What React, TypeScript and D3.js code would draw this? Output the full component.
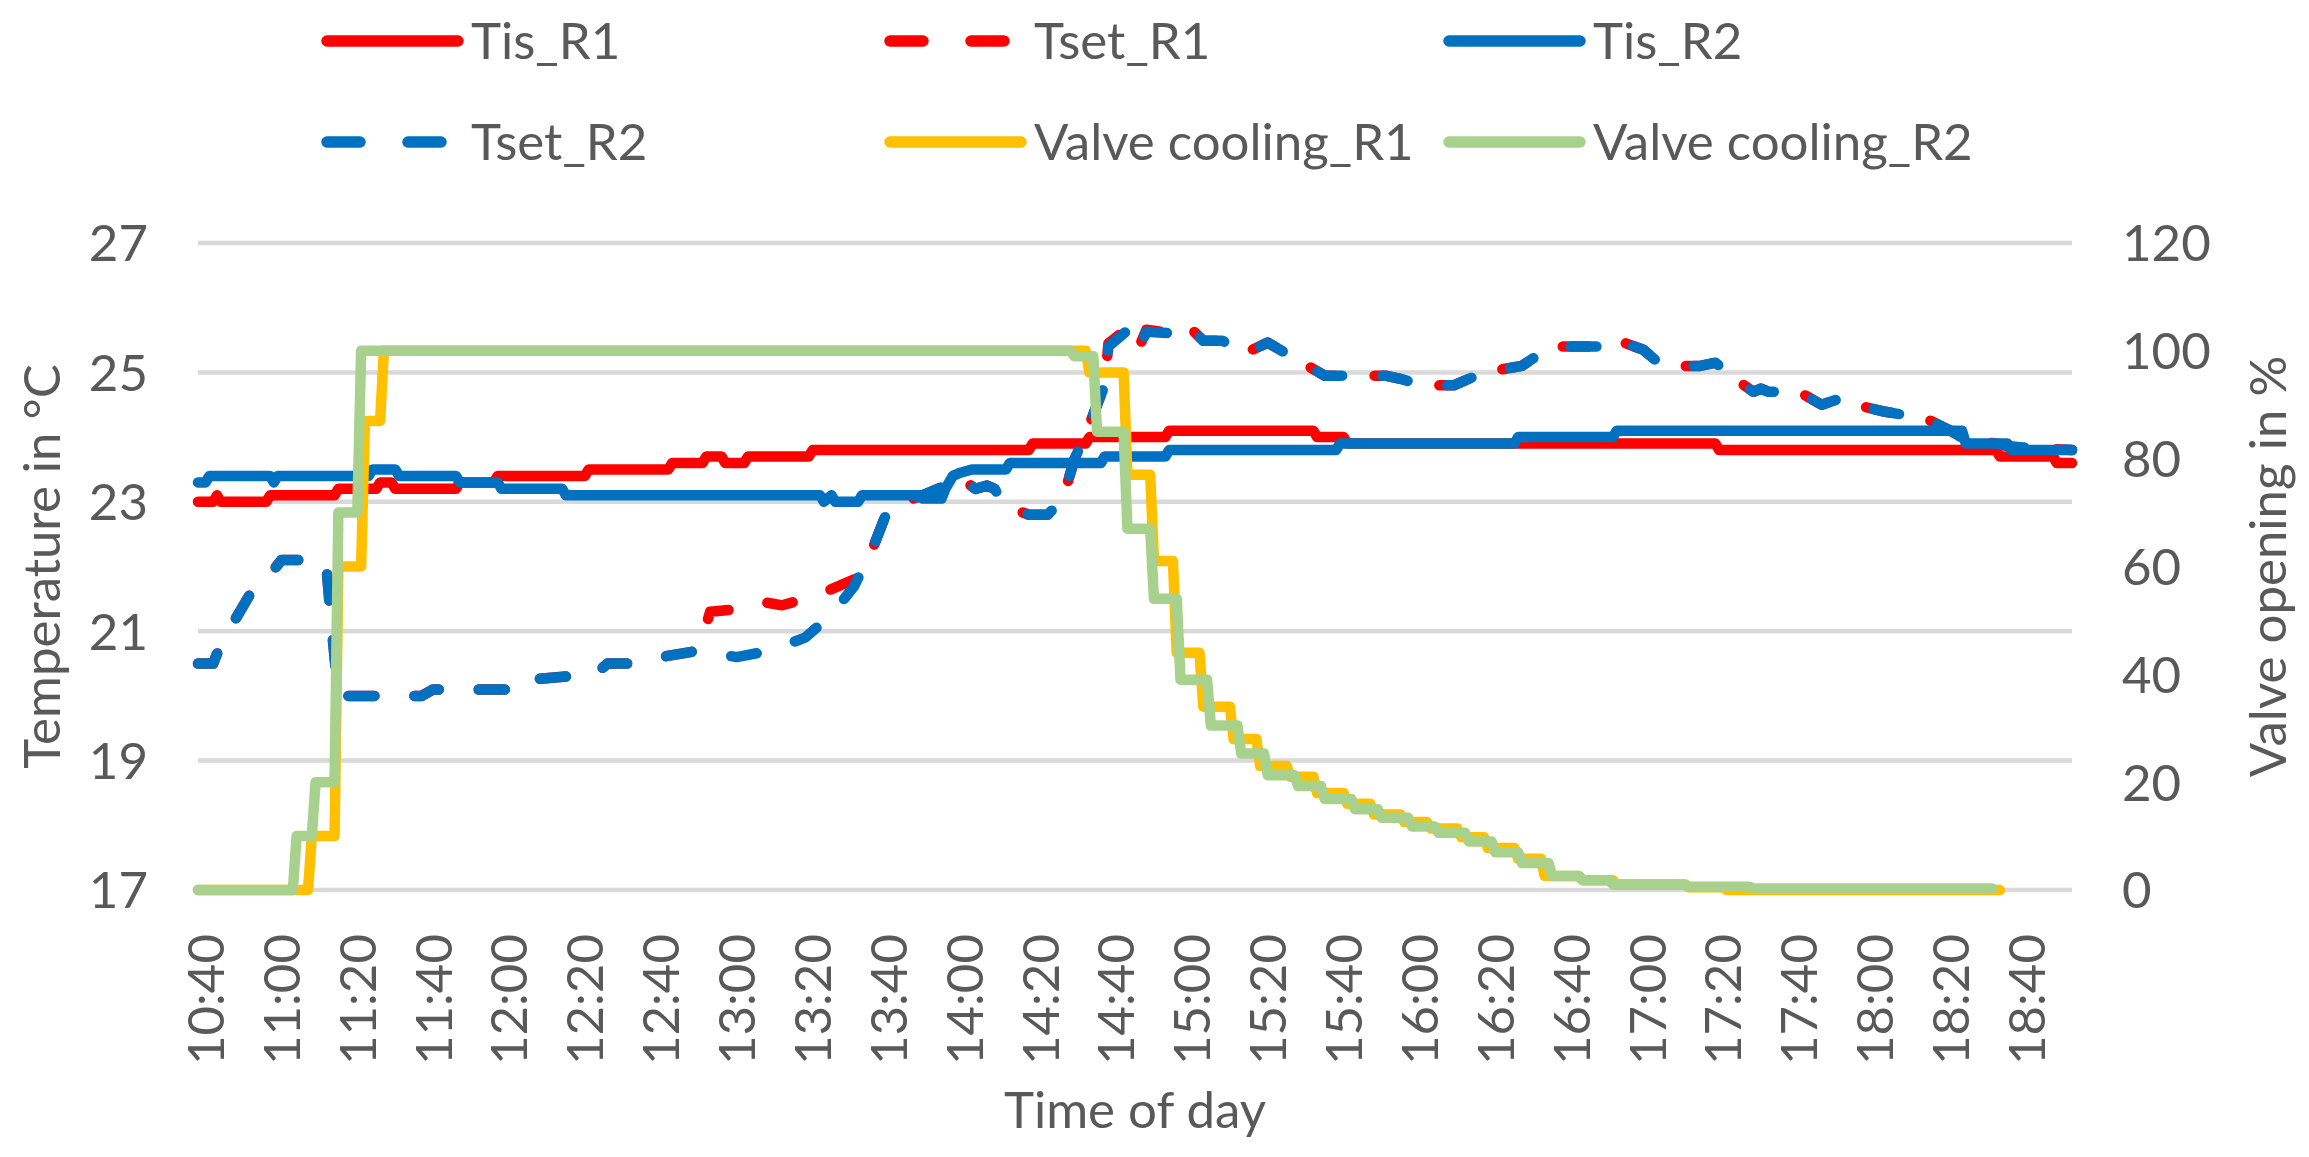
import React, { useRef, useEffect } from 'react'
import * as d3 from 'd3'

type Pt = [string, number]

// Axis ticks
const TIME_TICKS = [
  '10:40', '11:00', '11:20', '11:40', '12:00', '12:20', '12:40', '13:00', '13:20',
  '13:40', '14:00', '14:20', '14:40', '15:00', '15:20', '15:40', '16:00', '16:20',
  '16:40', '17:00', '17:20', '17:40', '18:00', '18:20', '18:40',
]
const TEMP_TICKS = [17, 19, 21, 23, 25, 27]
const VALVE_TICKS = [0, 20, 40, 60, 80, 100, 120]
const TIME_RANGE = ['10:38', '18:52']

// Room temperature R1 (°C)
const tisR1: Pt[] = [
  ['10:38', 23.0], ['10:42', 23.0], ['10:43', 23.1], ['10:44', 23.0], ['10:56', 23.0],
  ['10:57', 23.1], ['11:14', 23.1], ['11:15', 23.2], ['11:25', 23.2], ['11:26', 23.3],
  ['11:29', 23.3], ['11:30', 23.2], ['11:46', 23.2], ['11:47', 23.3], ['11:56', 23.3],
  ['11:57', 23.4], ['12:20', 23.4], ['12:21', 23.5], ['12:42', 23.5], ['12:43', 23.6],
  ['12:51', 23.6], ['12:52', 23.7], ['12:56', 23.7], ['12:57', 23.6], ['13:02', 23.6],
  ['13:03', 23.7], ['13:19', 23.7], ['13:20', 23.8], ['14:17', 23.8], ['14:18', 23.9],
  ['14:32', 23.9], ['14:33', 24.0], ['14:53', 24.0], ['14:54', 24.1], ['15:32', 24.1],
  ['15:33', 24.0], ['15:40', 24.0], ['15:41', 23.9], ['17:18', 23.9], ['17:19', 23.8],
  ['18:32', 23.8], ['18:33', 23.7], ['18:47', 23.7], ['18:48', 23.6], ['18:52', 23.6],
]

// Setpoint R1 (°C)
const tsetR1: Pt[] = [
  ['10:38', 20.5], ['10:42', 20.5], ['10:44', 20.8], ['10:49', 21.3], ['10:53', 21.7],
  ['10:56', 21.8], ['11:00', 22.1], ['11:11', 22.1], ['11:12', 21.9], ['11:13', 21.2],
  ['11:14', 20.6], ['11:15', 20.0], ['11:37', 20.0], ['11:40', 20.1], ['12:03', 20.1],
  ['12:05', 20.25], ['12:15', 20.3], ['12:17', 20.4], ['12:24', 20.4], ['12:26', 20.5],
  ['12:34', 20.5], ['12:40', 20.6], ['12:50', 20.7], ['12:53', 21.3], ['13:02', 21.35],
  ['13:07', 21.45], ['13:12', 21.4], ['13:21', 21.55], ['13:25', 21.65], ['13:31', 21.8],
  ['13:36', 22.3], ['13:40', 22.9], ['13:44', 23.0], ['13:49', 23.1], ['13:55', 23.25],
  ['13:58', 23.4], ['14:03', 23.2], ['14:06', 23.25], ['14:08', 23.2], ['14:10', 22.95],
  ['14:17', 22.8], ['14:22', 22.8], ['14:26', 23.05], ['14:29', 23.65], ['14:33', 24.2],
  ['14:37', 24.8], ['14:38', 25.45], ['14:43', 25.68], ['14:46', 25.38], ['14:48', 25.66],
  ['14:56', 25.6], ['14:59', 25.72], ['15:03', 25.49], ['15:08', 25.49], ['15:14', 25.3],
  ['15:20', 25.46], ['15:27', 25.22], ['15:35', 24.95], ['15:44', 24.95], ['15:51', 24.95],
  ['15:55', 24.9], ['16:01', 24.8], ['16:09', 24.8], ['16:13', 24.9], ['16:17', 25.0],
  ['16:27', 25.1], ['16:32', 25.3], ['16:36', 25.4], ['16:44', 25.4], ['16:50', 25.4],
  ['16:52', 25.5], ['16:59', 25.35], ['17:02', 25.2], ['17:06', 25.1], ['17:08', 25.1],
  ['17:14', 25.1], ['17:18', 25.15], ['17:22', 24.95], ['17:28', 24.7], ['17:30', 24.75],
  ['17:32', 24.7], ['17:40', 24.7], ['17:46', 24.5], ['17:51', 24.6], ['17:55', 24.5],
  ['18:02', 24.4], ['18:07', 24.35], ['18:13', 24.3], ['18:20', 24.1], ['18:24', 23.95],
  ['18:32', 23.9], ['18:36', 23.85], ['18:52', 23.8],
]

// Room temperature R2 (°C)
const tisR2: Pt[] = [
  ['10:38', 23.3], ['10:40', 23.3], ['10:41', 23.4], ['10:57', 23.4], ['10:58', 23.3],
  ['10:59', 23.4], ['11:23', 23.4], ['11:24', 23.5], ['11:30', 23.5], ['11:31', 23.4],
  ['11:46', 23.4], ['11:47', 23.3], ['11:57', 23.3], ['11:58', 23.2], ['12:14', 23.2],
  ['12:15', 23.1], ['13:22', 23.1], ['13:23', 23.0], ['13:25', 23.1], ['13:26', 23.0],
  ['13:32', 23.0], ['13:33', 23.1], ['13:48', 23.1], ['13:49', 23.05], ['13:54', 23.05],
  ['13:55', 23.2], ['13:57', 23.4], ['13:59', 23.45], ['14:02', 23.5], ['14:11', 23.5],
  ['14:12', 23.6], ['14:36', 23.6], ['14:37', 23.7], ['14:53', 23.7], ['14:54', 23.8],
  ['15:38', 23.8], ['15:39', 23.9], ['16:25', 23.9], ['16:26', 24.0], ['16:51', 24.0],
  ['16:52', 24.1], ['18:23', 24.1], ['18:24', 23.9], ['18:35', 23.9], ['18:36', 23.8],
  ['18:52', 23.8],
]

// Setpoint R2 (°C)
const tsetR2: Pt[] = [
  ['10:38', 20.5], ['10:42', 20.5], ['10:44', 20.8], ['10:49', 21.3], ['10:53', 21.7],
  ['10:56', 21.8], ['11:00', 22.1], ['11:11', 22.1], ['11:12', 21.9], ['11:13', 21.2],
  ['11:14', 20.6], ['11:15', 20.0], ['11:37', 20.0], ['11:40', 20.1], ['12:03', 20.1],
  ['12:05', 20.25], ['12:15', 20.3], ['12:17', 20.4], ['12:24', 20.4], ['12:26', 20.5],
  ['12:34', 20.5], ['12:40', 20.6], ['12:50', 20.7], ['12:55', 20.65], ['13:00', 20.6],
  ['13:09', 20.7], ['13:18', 20.9], ['13:25', 21.25], ['13:31', 21.7], ['13:36', 22.3],
  ['13:40', 22.9], ['13:44', 23.0], ['13:49', 23.1], ['13:55', 23.25], ['13:58', 23.4],
  ['14:03', 23.2], ['14:06', 23.25], ['14:08', 23.2], ['14:10', 23.0], ['14:17', 22.8],
  ['14:22', 22.8], ['14:26', 23.05], ['14:29', 23.65], ['14:33', 24.2], ['14:37', 24.8],
  ['14:38', 25.4], ['14:43', 25.65], ['14:46', 25.35], ['14:48', 25.63], ['14:56', 25.6],
  ['14:59', 25.72], ['15:03', 25.49], ['15:08', 25.49], ['15:14', 25.3], ['15:20', 25.46],
  ['15:27', 25.22], ['15:35', 24.95], ['15:44', 24.95], ['15:51', 24.95], ['15:55', 24.9],
  ['16:01', 24.8], ['16:09', 24.8], ['16:13', 24.9], ['16:17', 25.0], ['16:27', 25.1],
  ['16:32', 25.3], ['16:36', 25.4], ['16:44', 25.4], ['16:50', 25.4], ['16:52', 25.5],
  ['16:59', 25.35], ['17:02', 25.2], ['17:06', 25.1], ['17:08', 25.1], ['17:14', 25.1],
  ['17:18', 25.15], ['17:22', 24.95], ['17:28', 24.7], ['17:30', 24.75], ['17:32', 24.7],
  ['17:40', 24.7], ['17:46', 24.5], ['17:51', 24.6], ['17:55', 24.5], ['18:02', 24.4],
  ['18:07', 24.35], ['18:13', 24.3], ['18:20', 24.1], ['18:24', 23.95], ['18:32', 23.9],
  ['18:36', 23.85], ['18:52', 23.8],
]

// Valve opening R1 (%)
const valveR1: Pt[] = [
  ['10:38', 0], ['11:07', 0], ['11:08', 10], ['11:14', 10], ['11:15', 60], ['11:21', 60],
  ['11:22', 87], ['11:26', 87], ['11:27', 100], ['14:32', 100], ['14:33', 96], ['14:42', 96],
  ['14:43', 77], ['14:49', 77], ['14:50', 61], ['14:55', 61], ['14:56', 44], ['15:02', 44],
  ['15:03', 34], ['15:10', 34], ['15:11', 28], ['15:17', 28], ['15:18', 23], ['15:25', 23],
  ['15:26', 21], ['15:32', 21], ['15:33', 18], ['15:40', 18], ['15:41', 16], ['15:47', 16],
  ['15:48', 14], ['15:55', 14], ['15:56', 12.6], ['16:02', 12.6], ['16:03', 11.4],
  ['16:10', 11.4], ['16:11', 9.8], ['16:17', 9.8], ['16:18', 7.8], ['16:25', 7.8],
  ['16:26', 5.8], ['16:32', 5.8], ['16:33', 2.6], ['16:42', 2.6], ['16:43', 1.8],
  ['16:51', 1.8], ['16:52', 1.0], ['17:10', 1.0], ['17:11', 0.5], ['17:20', 0.5],
  ['17:21', 0], ['18:33', 0],
]

// Valve opening R2 (%)
const valveR2: Pt[] = [
  ['10:38', 0], ['11:03', 0], ['11:04', 10], ['11:08', 10], ['11:09', 20], ['11:14', 20],
  ['11:15', 70], ['11:20', 70], ['11:21', 100], ['14:28', 100], ['14:29', 99], ['14:34', 99],
  ['14:35', 85], ['14:42', 85], ['14:43', 67], ['14:49', 67], ['14:50', 54], ['14:56', 54],
  ['14:57', 39], ['15:04', 39], ['15:05', 30.5], ['15:12', 30.5], ['15:13', 25.3],
  ['15:19', 25.3], ['15:20', 21.3], ['15:27', 21.3], ['15:28', 19.3], ['15:34', 19.3],
  ['15:35', 16.9], ['15:42', 16.9], ['15:43', 15], ['15:49', 15], ['15:50', 13.4],
  ['15:57', 13.4], ['15:58', 11.8], ['16:04', 11.8], ['16:05', 10.6], ['16:12', 10.6],
  ['16:13', 9], ['16:19', 9], ['16:20', 7], ['16:26', 7], ['16:27', 5], ['16:34', 5],
  ['16:35', 2.6], ['16:42', 2.6], ['16:43', 1.8], ['16:50', 1.8], ['16:51', 1.0],
  ['17:10', 1.0], ['17:11', 0.6], ['17:27', 0.6], ['17:28', 0.3], ['18:31', 0.3],
]

interface Series {
  name: string
  data: Pt[]
  color: string
  dashed: boolean
  axis: 'temp' | 'valve'
}

const SERIES: Series[] = [
  { name: 'Tis_R1', data: tisR1, color: '#FF0000', dashed: false, axis: 'temp' },
  { name: 'Tset_R1', data: tsetR1, color: '#FF0000', dashed: true, axis: 'temp' },
  { name: 'Tis_R2', data: tisR2, color: '#0070C0', dashed: false, axis: 'temp' },
  { name: 'Tset_R2', data: tsetR2, color: '#0070C0', dashed: true, axis: 'temp' },
  { name: 'Valve cooling_R1', data: valveR1, color: '#FFC000', dashed: false, axis: 'valve' },
  { name: 'Valve cooling_R2', data: valveR2, color: '#A9D18E', dashed: false, axis: 'valve' },
]

const STYLE = {
  text: '#595959',
  grid: '#D9D9D9',
  font: 'Lato, "Noto Sans", Arial, sans-serif',
  fontSize: 51,
  lineWidth: 10.5,
}

const WIDTH = 2309
const HEIGHT = 1157

const toMin = (s: string) => {
  const [h, m] = s.split(':').map(Number)
  return h * 60 + m
}

function ValveChart() {
  const svgRef = useRef<SVGSVGElement>(null)

  useEffect(() => {
    if (!svgRef.current) return
    const svg = d3.select(svgRef.current)
    svg.selectAll('*').remove()

    const plot = { left: 198, right: 2072, top: 243, bottom: 890 }

    const x = d3.scaleLinear()
      .domain(TIME_RANGE.map(toMin))
      .range([plot.left, plot.right])
    const yTemp = d3.scaleLinear()
      .domain([17, 27])
      .range([plot.bottom, plot.top])
    const yValve = d3.scaleLinear()
      .domain([0, 120])
      .range([plot.bottom, plot.top])

    // gridlines (temperature axis)
    svg.append('g')
      .selectAll('line')
      .data(TEMP_TICKS)
      .enter().append('line')
      .attr('x1', plot.left)
      .attr('x2', plot.right)
      .attr('y1', d => yTemp(d))
      .attr('y2', d => yTemp(d))
      .attr('stroke', STYLE.grid)
      .attr('stroke-width', 4.5)

    const textStyle = (sel: d3.Selection<SVGTextElement, any, any, any>) =>
      sel.style('font-family', STYLE.font)
        .style('font-size', `${STYLE.fontSize}px`)
        .style('fill', STYLE.text)

    // left axis labels
    svg.append('g')
      .selectAll('text')
      .data(TEMP_TICKS)
      .enter().append('text')
      .attr('x', 148)
      .attr('y', d => yTemp(d))
      .attr('dy', '0.36em')
      .attr('text-anchor', 'end')
      .text(d => d)
      .call(textStyle)

    // right axis labels
    svg.append('g')
      .selectAll('text')
      .data(VALVE_TICKS)
      .enter().append('text')
      .attr('x', 2122)
      .attr('y', d => yValve(d))
      .attr('dy', '0.36em')
      .attr('text-anchor', 'start')
      .text(d => d)
      .call(textStyle)

    // time labels, rotated
    svg.append('g')
      .selectAll('text')
      .data(TIME_TICKS)
      .enter().append('text')
      .attr('transform', d => `translate(${x(toMin(d))},934) rotate(-90)`)
      .attr('dy', '0.36em')
      .attr('text-anchor', 'end')
      .text(d => d)
      .call(textStyle)

    // axis titles
    svg.append('text')
      .attr('x', (plot.left + plot.right) / 2)
      .attr('y', 1128)
      .attr('text-anchor', 'middle')
      .text('Time of day')
      .call(textStyle)

    svg.append('text')
      .attr('transform', `translate(42,${(plot.top + plot.bottom) / 2}) rotate(-90)`)
      .attr('dy', '0.36em')
      .attr('text-anchor', 'middle')
      .text('Temperature in °C')
      .call(textStyle)

    svg.append('text')
      .attr('transform', `translate(2268,${(plot.top + plot.bottom) / 2}) rotate(-90)`)
      .attr('dy', '0.36em')
      .attr('text-anchor', 'middle')
      .text('Valve opening in %')
      .call(textStyle)

    // series
    SERIES.forEach(s => {
      const yScale = s.axis === 'temp' ? yTemp : yValve
      const line = d3.line<Pt>()
        .x(d => x(toMin(d[0])))
        .y(d => yScale(d[1]))
      svg.append('path')
        .datum(s.data)
        .attr('fill', 'none')
        .attr('stroke', s.color)
        .attr('stroke-width', STYLE.lineWidth)
        .attr('stroke-linejoin', 'round')
        .attr('stroke-linecap', 'round')
        .attr('stroke-dasharray', s.dashed ? '26 40' : null)
        .attr('d', line)
    })

    // legend, 3 columns x 2 rows
    const legendCols = [327, 890, 1449]
    const legendRows = [41, 142]
    const legendItems = svg.append('g')
      .selectAll('g')
      .data(SERIES)
      .enter().append('g')
      .attr('transform', (d, i) => `translate(${legendCols[i % 3]},${legendRows[Math.floor(i / 3)]})`)

    legendItems.append('line')
      .attr('x1', 0)
      .attr('x2', 131)
      .attr('y1', 0)
      .attr('y2', 0)
      .attr('stroke', d => d.color)
      .attr('stroke-width', STYLE.lineWidth + 1)
      .attr('stroke-linecap', 'round')
      .attr('stroke-dasharray', d => (d.dashed ? '33 48' : null))

    legendItems.append('text')
      .attr('x', 144)
      .attr('y', 0)
      .attr('dy', '0.36em')
      .text(d => d.name)
      .call(textStyle)
  }, [])

  return (
    <svg
      ref={svgRef}
      width={WIDTH}
      height={HEIGHT}
      style={{ display: 'block', backgroundColor: '#FFFFFF' }}
    />
  )
}

export default function App() {
  return (
    <div style={{ position: 'absolute', left: 0, top: 0 }}>
      <ValveChart />
    </div>
  )
}
